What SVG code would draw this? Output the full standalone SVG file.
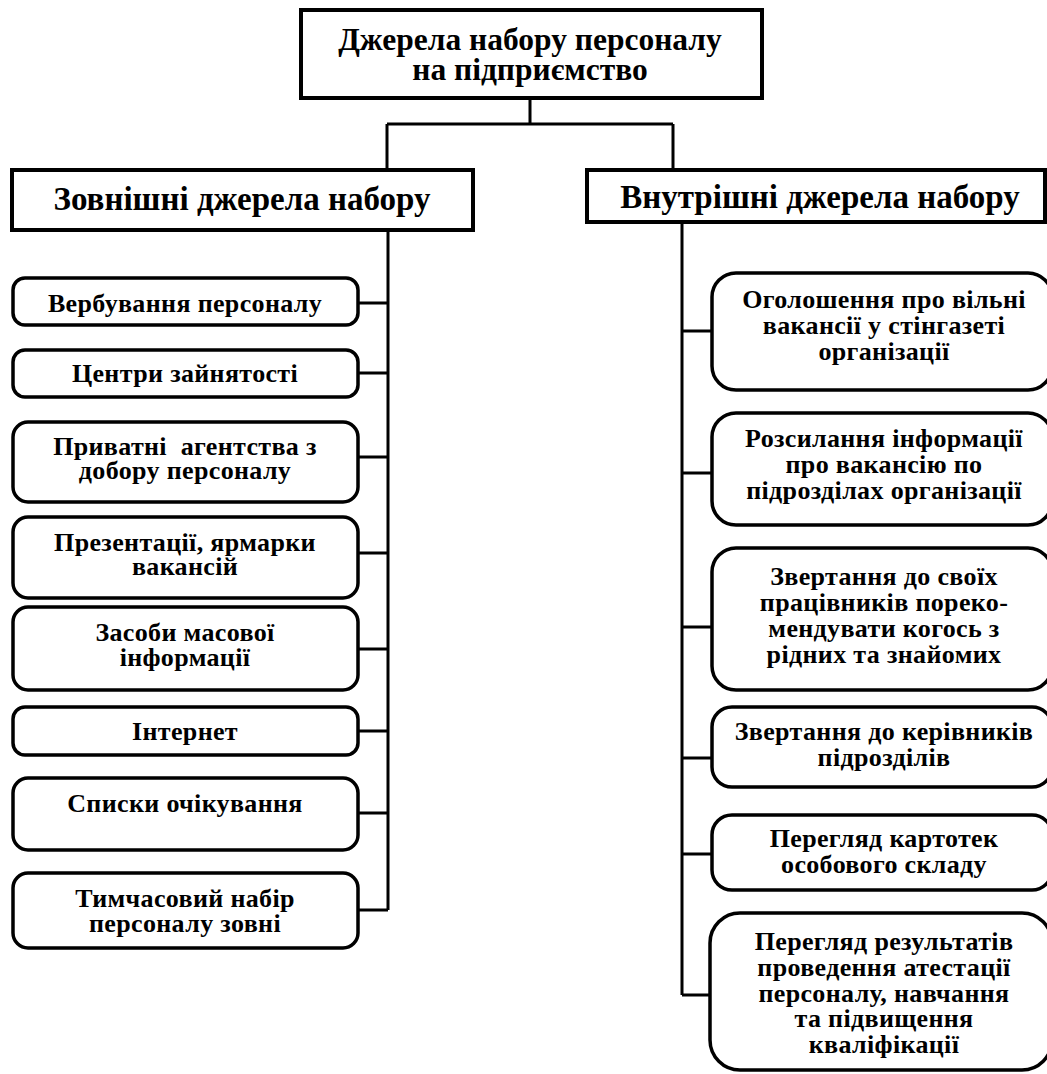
<svg xmlns="http://www.w3.org/2000/svg" width="1047" height="1074" viewBox="0 0 1047 1074">
<style>
.bx{fill:#fff;stroke:#000;stroke-width:3.5}
.hb{fill:#fff;stroke:#000;stroke-width:4}
.ln{fill:none;stroke:#000;stroke-width:3}
text{font-family:"Liberation Serif","Times New Roman",serif;font-weight:bold;fill:#000;text-anchor:middle}
.t1{font-size:31.5px}
.t2{font-size:33px}
.t3{font-size:26px;letter-spacing:0.35px}
</style>
<rect width="1047" height="1074" fill="#fff"/>
<g id="connectors">
<path class="ln" d="M530 98V124M387 124H673M387 124V170M673 124V170"/>
<path class="ln" d="M388 230V910M358 303H388M358 373H388M358 457H388M358 553H388M358 649H388M358 731H388M358 813H388M358 910H388"/>
<path class="ln" d="M682 222V995M682 331H712M682 473H712M682 627H712M682 758H712M682 854H712M682 995H712"/>
</g>
<g id="root"><rect class="hb" x="301" y="10" width="461" height="88"/>
<text class="t1" x="530" y="50">Джерела набору персоналу<tspan x="530" dy="30">на підприємство</tspan></text></g>
<g id="external"><rect class="hb" x="12" y="170" width="461" height="60"/>
<text class="t2" x="242" y="210">Зовнішні джерела набору</text></g>
<g id="internal"><rect class="hb" x="587" y="170" width="458" height="52"/>
<text class="t2" x="820" y="208">Внутрішні джерела набору</text></g>
<g id="e1"><rect class="bx" x="13" y="278" width="345" height="47" rx="12"/>
<text class="t3" x="185" y="312">Вербування персоналу</text></g>
<g id="e2"><rect class="bx" x="13" y="350" width="345" height="47" rx="12"/>
<text class="t3" x="185" y="382">Центри зайнятості</text></g>
<g id="e3"><rect class="bx" x="13" y="422" width="345" height="80" rx="15"/>
<text class="t3" x="185" y="455" xml:space="preserve">Приватні  агентства з<tspan x="185" dy="24">добору персоналу</tspan></text></g>
<g id="e4"><rect class="bx" x="13" y="517" width="345" height="81" rx="15"/>
<text class="t3" x="185" y="551">Презентації, ярмарки<tspan x="185" dy="24">вакансій</tspan></text></g>
<g id="e5"><rect class="bx" x="13" y="607" width="345" height="83" rx="15"/>
<text class="t3" x="185" y="641">Засоби масової<tspan x="185" dy="25">інформації</tspan></text></g>
<g id="e6"><rect class="bx" x="13" y="707" width="345" height="48" rx="12"/>
<text class="t3" x="185" y="740">Інтернет</text></g>
<g id="e7"><rect class="bx" x="13" y="778" width="345" height="72" rx="15"/>
<text class="t3" x="185" y="812">Списки очікування</text></g>
<g id="e8"><rect class="bx" x="13" y="873" width="345" height="75" rx="15"/>
<text class="t3" x="185" y="907">Тимчасовий набір<tspan x="185" dy="25">персоналу зовні</tspan></text></g>
<g id="i1"><rect class="bx" x="712" y="273" width="340" height="117" rx="24"/>
<text class="t3" x="884" y="308">Оголошення про вільні<tspan x="884" dy="26">вакансії у стінгазеті</tspan><tspan x="884" dy="26">організації</tspan></text></g>
<g id="i2"><rect class="bx" x="712" y="413" width="340" height="112" rx="24"/>
<text class="t3" x="884" y="447">Розсилання інформації<tspan x="884" dy="26">про вакансію по</tspan><tspan x="884" dy="26">підрозділах організації</tspan></text></g>
<g id="i3"><rect class="bx" x="712" y="548" width="340" height="142" rx="24"/>
<text class="t3" x="884" y="585">Звертання до своїх<tspan x="884" dy="26">працівників пореко-</tspan><tspan x="884" dy="26">мендувати когось з</tspan><tspan x="884" dy="26">рідних та знайомих</tspan></text></g>
<g id="i4"><rect class="bx" x="712" y="707" width="340" height="80" rx="20"/>
<text class="t3" x="884" y="740">Звертання до керівників<tspan x="884" dy="26">підрозділів</tspan></text></g>
<g id="i5"><rect class="bx" x="712" y="815" width="340" height="75" rx="20"/>
<text class="t3" x="884" y="847">Перегляд картотек<tspan x="884" dy="26">особового складу</tspan></text></g>
<g id="i6"><rect class="bx" x="710" y="913" width="342" height="157" rx="30"/>
<text class="t3" x="884" y="950">Перегляд результатів<tspan x="884" dy="26">проведення атестації</tspan><tspan x="884" dy="26">персоналу, навчання</tspan><tspan x="884" dy="25">та підвищення</tspan><tspan x="884" dy="26">кваліфікації</tspan></text></g>
</svg>
